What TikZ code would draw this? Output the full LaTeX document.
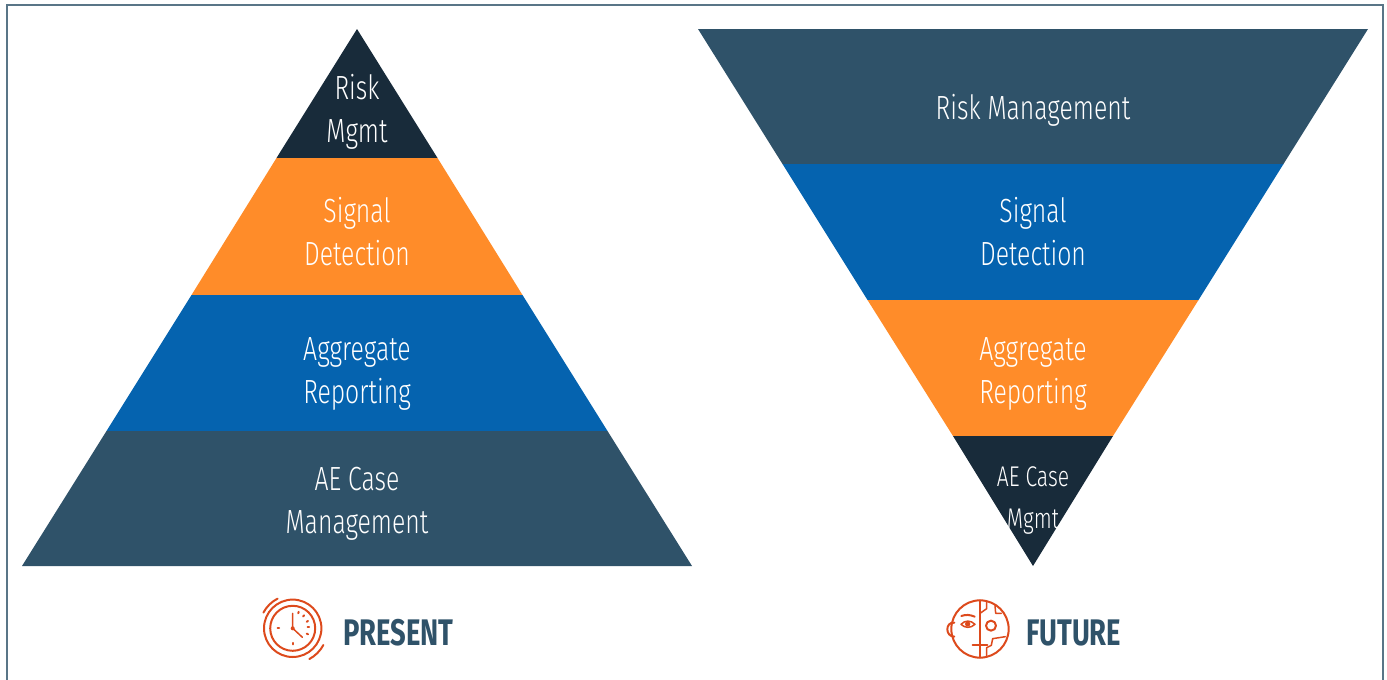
\documentclass[tikz,border=0pt]{standalone}
\usepackage{fontspec}
\usepackage{tikz}
\setmainfont{Fira Sans}[FakeStretch=0.74, UprightFont=* Light, BoldFont=* Bold]
\definecolor{slateband}{HTML}{2F5269}
\definecolor{navyband}{HTML}{182B3A}
\definecolor{orangeband}{HTML}{FF8C29}
\definecolor{blueband}{HTML}{0563AF}
\definecolor{iconred}{HTML}{DD4A1C}
\begin{document}
\begin{tikzpicture}[x=1pt, y=-1pt,
    bandtext/.style={text=white, align=center, inner sep=0pt, font=\fontsize{33.5}{43}\selectfont},
    smalltext/.style={text=white, align=center, inner sep=0pt, font=\fontsize{28.5}{42}\selectfont},
    headtext/.style={text=slateband, anchor=west, inner sep=0pt, font=\fontsize{37}{37}\selectfont\bfseries},
    iconline/.style={draw=iconred, line width=2pt, line cap=round, line join=round},
    iconthin/.style={draw=iconred, line width=1.5pt, line cap=round, line join=round}]
    \useasboundingbox (0, 0) rectangle (1387, 680);

    % draw outer frame
    \draw[color=slateband!80, line width=1.5pt] (7, 690) -- (7, 5) -- (1383, 5) -- (1383, 690);

    % draw left pyramid
    \fill[navyband] (357, 29) -- (437.5, 158) -- (276.5, 158) -- cycle;
    \fill[orangeband] (276.5, 158) -- (437.5, 158) -- (522.5, 295) -- (191.5, 295) -- cycle;
    \fill[blueband] (191.5, 295) -- (522.5, 295) -- (607.5, 431) -- (106.5, 431) -- cycle;
    \fill[slateband] (106.5, 431) -- (607.5, 431) -- (692, 566) -- (22, 566) -- cycle;

    % draw right pyramid
    \fill[slateband] (698, 29) -- (1368, 29) -- (1283.5, 164) -- (782.5, 164) -- cycle;
    \fill[blueband] (782.5, 164) -- (1283.5, 164) -- (1198.5, 300) -- (867.5, 300) -- cycle;
    \fill[orangeband] (867.5, 300) -- (1198.5, 300) -- (1113, 436) -- (953, 436) -- cycle;
    \fill[navyband] (953, 436) -- (1113, 436) -- (1033, 566) -- cycle;

    % band labels
    \node[bandtext] (riskleft) at (357, 111.5) {Risk\\Mgmt};
    \node[bandtext] (signalleft) at (357, 231.5) {Signal\\Detection};
    \node[bandtext] (aggregateleft) at (357, 374) {Aggregate\\Reporting};
    \node[bandtext] (caseleft) at (357, 503.5) {AE Case\\Management};
    \node[bandtext] (riskright) at (1033, 110.5) {Risk Management};
    \node[bandtext] (signalright) at (1033, 231.5) {Signal\\Detection};
    \node[bandtext] (aggregateright) at (1033, 374) {Aggregate\\Reporting};
    \node[smalltext] (caseright) at (1033, 500) {AE Case\\Mgmt};

    % headings
    \node[headtext] (present) at (343, 633) {PRESENT};
    \node[headtext] (future) at (1026, 633) {FUTURE};

    % draw clock icon
    \begin{scope}[shift={(292.7, 628.3)}]
      \draw[iconline] (0, 0) circle (28.7);
      \draw[iconline] (0, 0) circle (22.5);
      \draw[iconline] (-29.3, -15.7) arc [radius = 33.2, start angle = 208, delta angle = 35];
      \draw[iconline] (30.7, 16.7) arc [radius = 35, start angle = 28.5, delta angle = 33];
      \draw[iconthin] (0, -15) -- (0, 0) -- (9.7, 9);
      \fill[iconred] (0, 0) circle (2);
      \draw[iconline] (-15, 0) -- (-13.5, 0);
      \draw[iconline] (0, 14.5) -- (0, 16);
      \draw[iconline] (5.5, -15) -- (6, -16.5);
      \draw[iconline] (10.5, -12) -- (11.5, -13);
      \draw[iconline] (14, -6.5) -- (15.3, -7.3);
      \draw[iconline] (15, -1) -- (16.5, -1);
      \draw[iconline] (14, 5.3) -- (15.4, 6);
    \end{scope}

    % draw face icon
    \begin{scope}[shift={(930, 580)}, x=0.3333pt, y=-0.3333pt]
      \draw[iconline] (150, 147) circle [radius = 86];
      \draw[iconline] (73, 128) .. controls (45, 125) and (45, 170) .. (73, 170);
      \draw[iconline] (150, 61) -- (150, 233);
      \draw[iconline] (128, 196) -- (172, 196);
      \draw[iconline] (94, 108) .. controls (108, 103) and (120, 104) .. (134, 110);
      \draw[iconthin] (93, 133) .. controls (105, 120) and (122, 120) .. (135, 133) .. controls (122, 145) and (105, 145) .. (93, 133);
      \fill[iconred] (113, 132) circle [radius = 8];
      \draw[iconline] (183, 137) circle [radius = 15];
      \draw[iconthin] (150, 100) -- (170, 86) -- (170, 63);
      \draw[iconthin] (195, 76) -- (197, 100) -- (214, 100);
      \draw[iconthin] (226, 170) -- (188, 176) -- (184, 196) -- (170, 203) -- (170, 230);
    \end{scope}
\end{tikzpicture}
\end{document}
